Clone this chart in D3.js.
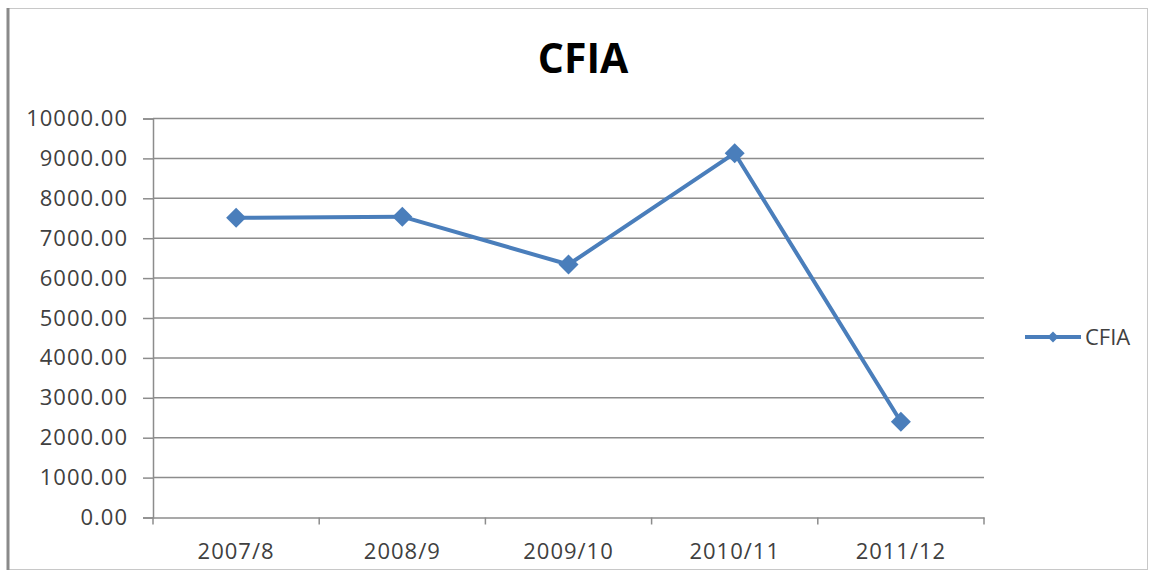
<!DOCTYPE html>
<html>
<head>
<meta charset="utf-8">
<script src="https://cdn.jsdelivr.net/npm/d3@7"></script>
<style>
  html, body { margin: 0; padding: 0; background: #fff; }
  svg { display: block; }
</style>
</head>
<body>
<svg id="chart" width="1151" height="578"></svg>
<script>
// Fiscal-year periods and CFIA totals
const categories = ["2007/8", "2008/9", "2009/10", "2010/11", "2011/12"];
const cfiaValues = [7510, 7540, 6340, 9130, 2400];
const yTickValues = [0, 1000, 2000, 3000, 4000, 5000, 6000, 7000, 8000, 9000, 10000];
const seriesName = "CFIA";
const chartTitle = "CFIA";

const W = 1151, H = 578;
const plot = { left: 153, right: 984, top: 118.5, bottom: 517.5 };
const blue = "#4a7ebb";
const gridColor = "#8c8c8c";
const textColor = "#404040";
const font = "'Open Sans', 'Liberation Sans', sans-serif";

const svg = d3.select("#chart");

// Chart frame
svg.append("rect")
  .attr("x", 8.5).attr("y", 8.5)
  .attr("width", 1139).attr("height", 561)
  .attr("fill", "#fff")
  .attr("stroke", "#c8c8c8").attr("stroke-width", 1);
svg.append("line")
  .attr("x1", 8).attr("x2", 8)
  .attr("y1", 8).attr("y2", 570)
  .attr("stroke", "#8a8a8a").attr("stroke-width", 3);

// Scales
const x = d3.scaleBand()
  .domain(categories)
  .range([plot.left, plot.right])
  .padding(0);
const y = d3.scaleLinear()
  .domain([0, 10000])
  .range([plot.bottom, plot.top]);

// Horizontal gridlines
svg.append("g")
  .selectAll("line")
  .data(yTickValues.filter(v => v > 0))
  .join("line")
  .attr("x1", plot.left).attr("x2", plot.right)
  .attr("y1", d => y(d)).attr("y2", d => y(d))
  .attr("stroke", gridColor).attr("stroke-width", 1.5);

// Y axis
const yAxis = d3.axisLeft(y)
  .tickValues(yTickValues)
  .tickFormat(d3.format(".2f"))
  .tickSize(10)
  .tickPadding(15);
const gy = svg.append("g")
  .attr("transform", `translate(${plot.left},0)`)
  .call(yAxis);
gy.select(".domain").attr("stroke", gridColor).attr("stroke-width", 1.5);
gy.selectAll(".tick line").attr("stroke", gridColor).attr("stroke-width", 1.5);
gy.selectAll(".tick text")
  .attr("fill", textColor)
  .style("font-family", font)
  .style("font-size", "22px")
  .style("letter-spacing", "1px");

// X axis with ticks between categories
const xAxis = d3.axisBottom(x).tickSize(0).tickPadding(26);
const gx = svg.append("g")
  .attr("transform", `translate(0,${plot.bottom})`)
  .call(xAxis);
gx.select(".domain").attr("stroke", gridColor).attr("stroke-width", 1.5);
gx.selectAll(".tick text")
  .attr("fill", textColor)
  .style("font-family", font)
  .style("font-size", "22px")
  .style("letter-spacing", "1px");
const boundaries = categories.map(c => x(c)).concat([x(categories[categories.length - 1]) + x.bandwidth()]);
gx.selectAll(".cat-tick")
  .data(boundaries)
  .join("line")
  .attr("class", "cat-tick")
  .attr("x1", d => d).attr("x2", d => d)
  .attr("y1", 0).attr("y2", 7)
  .attr("stroke", gridColor).attr("stroke-width", 1.5);

// Series line
const points = categories.map((c, i) => ({ cat: c, value: cfiaValues[i] }));
const line = d3.line()
  .x(d => x(d.cat) + x.bandwidth() / 2)
  .y(d => y(d.value));
svg.append("path")
  .datum(points)
  .attr("d", line)
  .attr("fill", "none")
  .attr("stroke", blue)
  .attr("stroke-width", 4)
  .attr("stroke-linejoin", "round");

// Diamond markers
const diamond = d3.symbol().type(d3.symbolSquare).size(200);
svg.append("g")
  .selectAll("path")
  .data(points)
  .join("path")
  .attr("d", diamond)
  .attr("transform", d => `translate(${x(d.cat) + x.bandwidth() / 2},${y(d.value)}) rotate(45)`)
  .attr("fill", blue);

// Title
svg.append("text")
  .attr("x", 583).attr("y", 73)
  .attr("text-anchor", "middle")
  .attr("fill", "#000")
  .style("font-family", font)
  .style("font-weight", "bold")
  .style("font-size", "41px")
  .text(chartTitle);

// Legend
const legend = svg.append("g").attr("transform", "translate(1025,337)");
legend.append("line")
  .attr("x1", 0).attr("x2", 56)
  .attr("y1", 0).attr("y2", 0)
  .attr("stroke", blue).attr("stroke-width", 4);
legend.append("path")
  .attr("d", d3.symbol().type(d3.symbolSquare).size(60)())
  .attr("transform", "translate(28,0) rotate(45)")
  .attr("fill", blue);
legend.append("text")
  .attr("x", 60).attr("y", 0)
  .attr("dy", "0.35em")
  .attr("fill", textColor)
  .style("font-family", font)
  .style("font-size", "22px")
  .text(seriesName);
</script>
</body>
</html>
